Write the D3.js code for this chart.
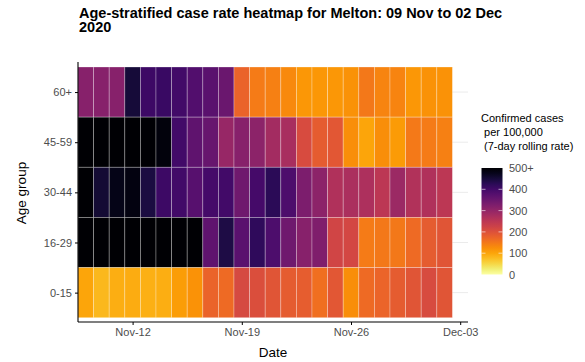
<!DOCTYPE html>
<html><head><meta charset="utf-8">
<script src="https://cdn.jsdelivr.net/npm/d3@7"></script>
<style>body{margin:0;background:#fff}svg{display:block;font-family:"Liberation Sans",Arial,sans-serif}</style>
</head><body><svg id="c" width="585" height="362"></svg>
<script>
const dates = ["2020-11-09","2020-11-10","2020-11-11","2020-11-12","2020-11-13","2020-11-14","2020-11-15","2020-11-16","2020-11-17","2020-11-18","2020-11-19","2020-11-20","2020-11-21","2020-11-22","2020-11-23","2020-11-24","2020-11-25","2020-11-26","2020-11-27","2020-11-28","2020-11-29","2020-11-30","2020-12-01","2020-12-02"];
const ageGroups = ["60+","45-59","30-44","16-29","0-15"];
const rate60plus = [315,315,315,450,405,410,400,380,370,350,175,145,140,130,115,115,115,120,150,135,135,115,120,120];
const rate45_59 = [560,560,560,560,560,490,400,365,355,295,315,310,280,275,210,185,190,125,100,125,110,148,145,140];
const rate30_44 = [520,455,480,485,445,405,400,375,395,400,345,395,425,385,330,310,265,270,268,250,290,262,265,250];
const rate16_29 = [560,560,560,560,560,560,560,560,365,440,370,420,385,345,315,325,220,215,145,150,150,165,185,195];
const rate0_15 = [100,82,90,92,88,90,108,120,175,165,212,205,195,185,182,160,190,125,165,172,185,195,210,195];
const xTickDates = ["2020-11-12","2020-11-19","2020-11-26","2020-12-03"];
const legendBreaks = [0,100,200,300,400,500];
const legendLabels = ["0","100","200","300","400","500+"];

const rows = {"60+":rate60plus,"45-59":rate45_59,"30-44":rate30_44,"16-29":rate16_29,"0-15":rate0_15};
const parse = d3.utcParse("%Y-%m-%d");
const DAY = 864e5;
const cells = [];
ageGroups.forEach(g => rows[g].forEach((v,i) => cells.push({g, d: parse(dates[i]), v})));

const svg = d3.select("#c");
const L = 78, R = 468, T = 62, B = 322;
const x = d3.scaleUtc().domain([new Date(+parse(dates[0]) - DAY/2), new Date(+parse("2020-12-03") + DAY/2)]).range([L, R]);
const y = d3.scaleBand().domain(ageGroups).range([67, 317.7]).padding(0);
const color = v => d3.interpolateInferno(1 - Math.min(v,500)/500);

// gridlines
svg.append("g").selectAll("line").data(ageGroups).join("line")
  .attr("x1", L).attr("x2", R)
  .attr("y1", d => y(d) + y.bandwidth()/2).attr("y2", d => y(d) + y.bandwidth()/2)
  .attr("stroke", "#ebebeb").attr("stroke-width", 1);

// tiles
svg.append("g").selectAll("rect").data(cells).join("rect")
  .attr("x", d => x(new Date(+d.d - DAY/2)))
  .attr("width", d => x(new Date(+d.d + DAY/2)) - x(new Date(+d.d - DAY/2)))
  .attr("y", d => y(d.g)).attr("height", y.bandwidth())
  .attr("fill", d => color(d.v))
  .attr("stroke", "rgba(255,255,255,0.35)").attr("stroke-width", 0.8);

// x axis
const xa = svg.append("g").attr("transform", `translate(0,${B})`)
  .call(d3.axisBottom(x).tickValues(xTickDates.map(parse)).tickFormat(d3.utcFormat("%b-%d")).tickSizeOuter(0).tickSize(3).tickPadding(3));
xa.select(".domain").attr("d", `M${L},0H${R}`).attr("stroke","#000").attr("stroke-width",1.1);
xa.selectAll(".tick line").attr("stroke","#000");
xa.selectAll(".tick text").attr("fill","#4d4d4d").attr("font-size","11px").attr("font-family","Liberation Sans, Arial, sans-serif");

// y axis
const yScaleAxis = d3.scalePoint().domain(ageGroups).range([y("60+")+y.bandwidth()/2, y("0-15")+y.bandwidth()/2]);
const ya = svg.append("g").attr("transform", `translate(${L},0)`)
  .call(d3.axisLeft(yScaleAxis).tickSizeOuter(0).tickSize(3).tickPadding(3));
ya.select(".domain").attr("d", `M0,${T}V${B}`).attr("stroke","#000").attr("stroke-width",1.1);
ya.selectAll(".tick line").attr("stroke","#000");
ya.selectAll(".tick text").attr("fill","#4d4d4d").attr("font-size","11px").attr("font-family","Liberation Sans, Arial, sans-serif");

// titles
svg.append("text").attr("x", 79).attr("y", 17.5).attr("font-weight","bold").attr("font-size","14.5px").attr("fill","#000")
  .text("Age-stratified case rate heatmap for Melton: 09 Nov to 02 Dec");
svg.append("text").attr("x", 79).attr("y", 32.3).attr("font-weight","bold").attr("font-size","14.5px").attr("fill","#000")
  .text("2020");
svg.append("text").attr("x", (L+R)/2).attr("y", 357).attr("text-anchor","middle").attr("font-size","13.5px").attr("fill","#000").text("Date");
svg.append("text").attr("transform", "translate(26,193) rotate(-90)").attr("text-anchor","middle").attr("font-size","13.5px").attr("fill","#000").text("Age group");

// legend
const lg = svg.append("g");
const legTitle = ["Confirmed cases"," per 100,000"," (7-day rolling rate)"];
lg.selectAll("text.lt").data(legTitle).join("text").attr("class","lt")
  .attr("x", 481).attr("y", (d,i) => 122 + i*14).attr("font-size","11px").attr("fill","#000")
  .attr("xml:space","preserve").style("white-space","pre").text(d => d);
const ly = d3.scaleLinear().domain([0,500]).range([274.5,168]);
const defs = svg.append("defs");
const grad = defs.append("linearGradient").attr("id","lgd").attr("x1",0).attr("x2",0).attr("y1",1).attr("y2",0);
d3.range(0,1.0001,0.05).forEach(t => grad.append("stop").attr("offset", t).attr("stop-color", color(t*500)));
const bx = 481.5, bw = 21;
lg.append("rect").attr("x", bx).attr("y", ly(500)).attr("width", bw).attr("height", ly(0)-ly(500)).attr("fill","url(#lgd)");
lg.selectAll("line.tk").data(legendBreaks.filter(b => b>0 && b<500)).join("line").attr("class","tk")
  .attr("x1", bx).attr("x2", bx+4).attr("y1", d=>ly(d)).attr("y2", d=>ly(d)).attr("stroke","rgba(255,255,255,0.6)");
lg.selectAll("line.tk2").data(legendBreaks.filter(b => b>0 && b<500)).join("line").attr("class","tk2")
  .attr("x1", bx+bw-4).attr("x2", bx+bw).attr("y1", d=>ly(d)).attr("y2", d=>ly(d)).attr("stroke","rgba(255,255,255,0.6)");
lg.selectAll("text.ll").data(legendBreaks).join("text").attr("class","ll")
  .attr("x", 509).attr("y", d => ly(d) + 4).attr("font-size","11px").attr("fill","#4d4d4d")
  .text((d,i) => legendLabels[i]);
</script></body></html>
